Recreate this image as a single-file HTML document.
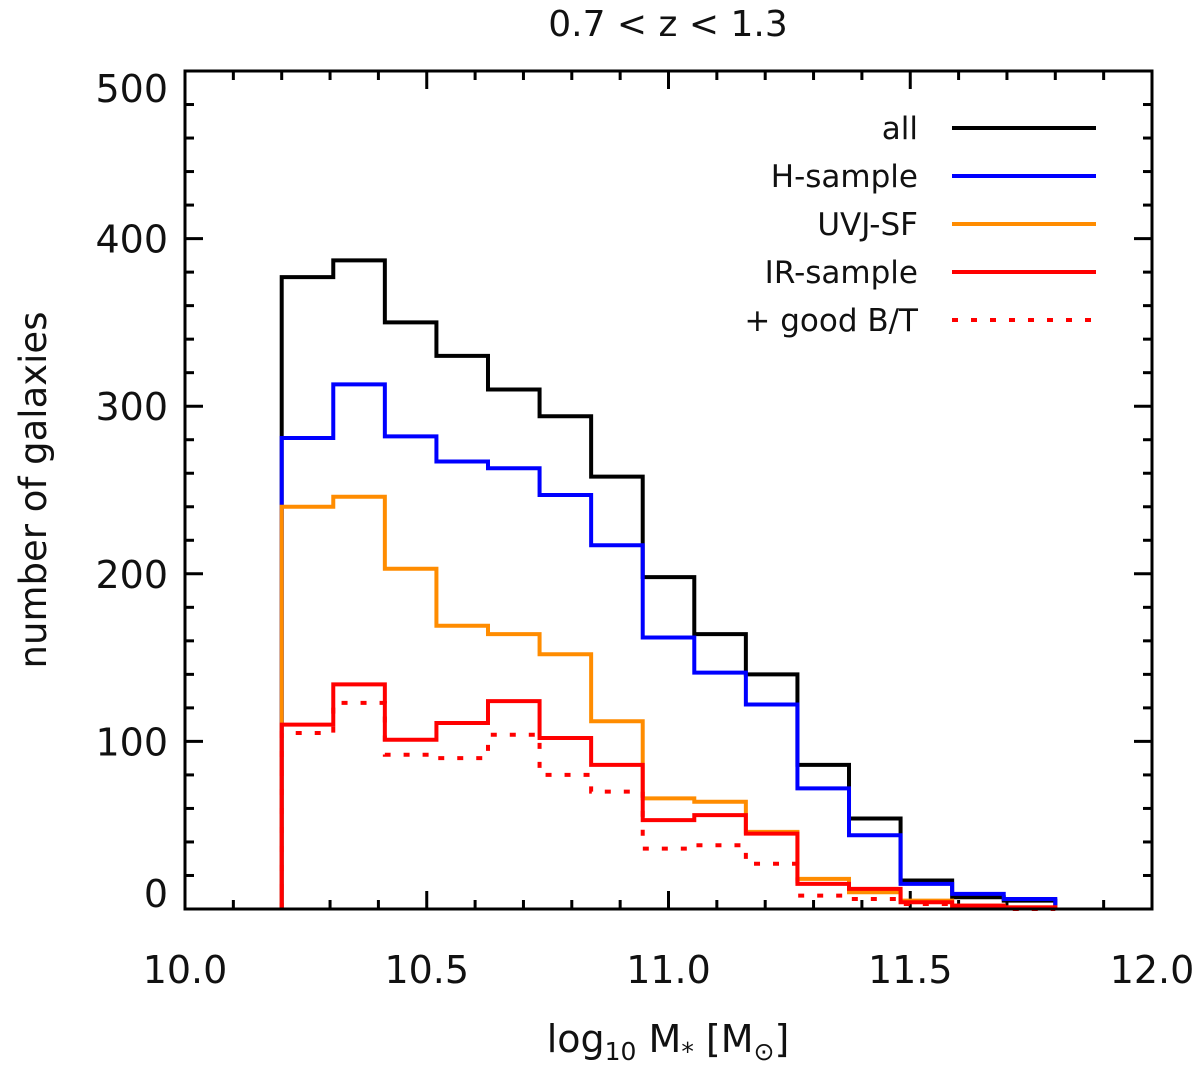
<!DOCTYPE html>
<html><head><meta charset="utf-8"><style>
body{margin:0;background:#fff}
svg text{font-family:"DejaVu Sans","Liberation Sans",sans-serif;fill:#111}
</style></head><body>
<svg id="chart" width="1200" height="1069" viewBox="0 0 1200 1069" xmlns="http://www.w3.org/2000/svg">
<text x="668" y="36" font-size="36" text-anchor="middle">0.7 &lt; z &lt; 1.3</text>
<text x="668" y="1052" font-size="38" text-anchor="middle">log<tspan font-size="25" dy="8">10</tspan><tspan dy="-8"> M</tspan><tspan font-size="25" dy="8">*</tspan><tspan dy="-8"> [M</tspan><tspan font-size="25" dy="8">⊙</tspan><tspan dy="-8">]</tspan></text>
<text transform="translate(46,490) rotate(-90)" font-size="37" text-anchor="middle">number of galaxies</text>
<g id="ticks"></g>
<g id="series"></g>
<g id="legend"></g>
<rect x="185" y="71" width="967" height="838" fill="none" stroke="#000" stroke-width="3"/>
</svg>
<script>
const binStart = 10.2;
const binWidth = 1.6/15;
const allVals = [377,387,350,330,310,294,258,198,164,140,86,54,17,7,5];
const hVals = [281,313,282,267,263,247,217,162,141,122,72,44,15,9,6];
const uvjVals = [240,246,203,169,164,152,112,66,64,46,18,10,5,2,1];
const irVals = [110,134,101,111,124,102,86,53,56,45,15,12,4,2,1];
const btVals = [105,123,92,90,104,80,70,36,38,27,8,6,3,1,0];
const xTicks = [10.0,10.5,11.0,11.5,12.0];
const xTickLabels = ["10.0","10.5","11.0","11.5","12.0"];
const yTicks = [0,100,200,300,400,500];
const yTickLabels = ["0","100","200","300","400","500"];
const seriesNames = ["all","H-sample","UVJ-SF","IR-sample","+ good B/T"];

const X = v => 185 + (v-10)/2*967;
const Y = v => 909 - v/500*838;
const NS = "http://www.w3.org/2000/svg";
function mk(tag, attrs, parent){const e=document.createElementNS(NS,tag);for(const k in attrs)e.setAttribute(k,attrs[k]);parent.appendChild(e);return e;}
const ticks=document.getElementById('ticks');
for(let i=0;i<=20;i++){const v=10+i*0.1;const major=i%5===0;const L=major?18:9;const x=X(v);
 const t1=mk('line',{x1:x,x2:x,y1:909,y2:909-L,stroke:'#000','stroke-width':3},ticks);
 
 
 const t2=mk('line',{x1:x,x2:x,y1:71,y2:71+L,stroke:'#000','stroke-width':3},ticks);
 
 }
xTicks.forEach((v,i)=>{const t=mk('text',{x:X(v),y:983,'font-size':38,'text-anchor':'middle'},ticks);t.textContent=xTickLabels[i];
 
 });
for(let i=0;i<=25;i++){const v=i*20;const major=i%5===0;const L=major?18:9;const y=Y(v);
 const t1=mk('line',{x1:185,x2:185+L,y1:y,y2:y,stroke:'#000','stroke-width':3},ticks);
 
 
 const t2=mk('line',{x1:1152,x2:1152-L,y1:y,y2:y,stroke:'#000','stroke-width':3},ticks);
 
 }
yTicks.forEach((v,i)=>{const t=mk('text',{x:168,y:Math.max(Math.min(Y(v)+14,907),102),'font-size':38,'text-anchor':'end'},ticks);t.textContent=yTickLabels[i];
 
 });
const series=document.getElementById('series');
function step(vals,color,dash,name){let d='M'+X(binStart)+','+Y(0);
 vals.forEach((v,i)=>{const x0=X(binStart+i*binWidth),x1=X(binStart+(i+1)*binWidth);d+=' L'+x0+','+Y(v)+' L'+x1+','+Y(v);});
 d+=' L'+X(binStart+vals.length*binWidth)+','+Y(0);
 const p=mk('path',{d:d,fill:'none',stroke:color,'stroke-width':4},series);
 if(dash)p.setAttribute('stroke-dasharray',dash);
 
 }
step(allVals,'#000',null,'all-histogram');
step(hVals,'#0000ff',null,'h-sample-histogram');
step(uvjVals,'#ff8c00',null,'uvj-sf-histogram');
step(btVals,'#ff0000','6 13','good-bt-histogram');
step(irVals,'#ff0000',null,'ir-sample-histogram');
const lg=document.getElementById('legend');
const lc=['#000','#0000ff','#ff8c00','#ff0000','#ff0000'];
seriesNames.forEach((n,i)=>{const y=128+i*48;
 const t=mk('text',{x:918,y:y+11,'font-size':31,'text-anchor':'end'},lg);t.textContent=n;
 
 
 const l=mk('line',{x1:952,x2:1096,y1:y,y2:y,stroke:lc[i],'stroke-width':4},lg);
 if(i===4)l.setAttribute('stroke-dasharray','6 13');
 
 });
</script>
</body></html>
